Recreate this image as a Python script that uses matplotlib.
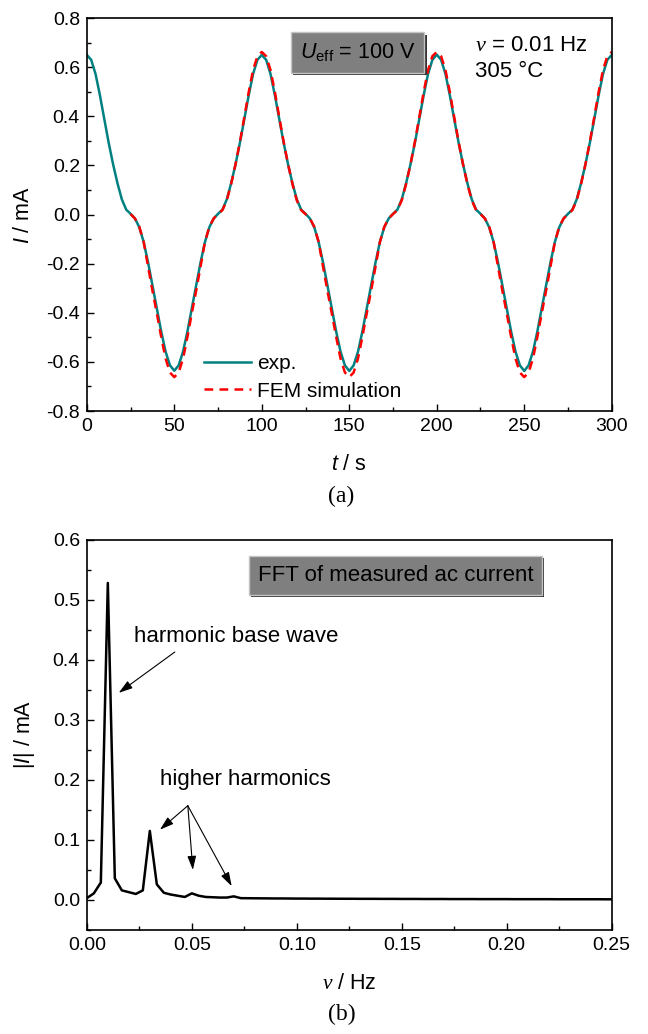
import numpy as np
import matplotlib
matplotlib.use('Agg')
import matplotlib.pyplot as plt
import matplotlib.patheffects as pe
from matplotlib.ticker import MultipleLocator, FormatStrFormatter

plt.rcParams['font.family'] = ['Liberation Sans', 'DejaVu Sans']
plt.rcParams['mathtext.fontset'] = 'custom'
plt.rcParams['mathtext.rm'] = 'Liberation Sans'
plt.rcParams['mathtext.it'] = 'Liberation Sans:italic'
plt.rcParams['mathtext.cal'] = 'Liberation Serif:italic'
plt.rcParams['axes.unicode_minus'] = False

# ---------------- data ----------------
# (a) time signal, sampled every 2.5 s
time_exp = np.arange(0, 300.01, 2.5)
current_exp = [
    0.650, 0.630, 0.572, 0.485, 0.388, 0.292, 0.205, 0.128, 0.062, 0.020, 0.003,
    -0.016, -0.052, -0.112, -0.195, -0.288, -0.382, -0.476, -0.558, -0.614, -0.636,
    -0.614, -0.558, -0.476, -0.382, -0.288, -0.195, -0.112, -0.052, -0.016, 0.003,
    0.020, 0.062, 0.128, 0.205, 0.292, 0.388, 0.485, 0.572, 0.630, 0.650,
    0.630, 0.572, 0.485, 0.388, 0.292, 0.205, 0.128, 0.062, 0.020, 0.003,
    -0.016, -0.052, -0.112, -0.195, -0.288, -0.382, -0.476, -0.558, -0.614, -0.637,
    -0.614, -0.558, -0.476, -0.382, -0.288, -0.195, -0.112, -0.052, -0.016, 0.003,
    0.020, 0.062, 0.128, 0.205, 0.292, 0.388, 0.485, 0.572, 0.630, 0.651,
    0.630, 0.572, 0.485, 0.388, 0.292, 0.205, 0.128, 0.062, 0.020, 0.003,
    -0.016, -0.052, -0.112, -0.195, -0.288, -0.382, -0.476, -0.558, -0.614, -0.637,
    -0.614, -0.558, -0.476, -0.382, -0.288, -0.195, -0.112, -0.052, -0.016, 0.003,
    0.020, 0.062, 0.128, 0.205, 0.292, 0.388, 0.485, 0.572, 0.630, 0.650,
]

time_fem = np.arange(25, 300.01, 2.5)
current_fem = [
    0.002, -0.016, -0.050, -0.112, -0.212, -0.310, -0.402, -0.498, -0.586, -0.643, -0.662,
    -0.643, -0.586, -0.498, -0.402, -0.310, -0.212, -0.112, -0.050, -0.016, 0.002,
    0.018, 0.058, 0.125, 0.205, 0.296, 0.396, 0.498, 0.588, 0.645, 0.662,
    0.645, 0.588, 0.498, 0.396, 0.296, 0.205, 0.125, 0.058, 0.018, 0.002,
    -0.016, -0.050, -0.112, -0.212, -0.310, -0.402, -0.498, -0.586, -0.643, -0.662,
    -0.643, -0.586, -0.498, -0.402, -0.310, -0.212, -0.112, -0.050, -0.016, 0.002,
    0.018, 0.058, 0.125, 0.205, 0.296, 0.396, 0.498, 0.588, 0.645, 0.662,
    0.645, 0.588, 0.498, 0.396, 0.296, 0.205, 0.125, 0.058, 0.018, 0.002,
    -0.016, -0.050, -0.112, -0.212, -0.310, -0.402, -0.498, -0.586, -0.643, -0.662,
    -0.643, -0.586, -0.498, -0.402, -0.310, -0.212, -0.112, -0.050, -0.016, 0.002,
    0.018, 0.058, 0.125, 0.205, 0.296, 0.396, 0.498, 0.588, 0.645, 0.662,
]

# (b) FFT magnitude, resolution 1/300 Hz
freq_fft = np.arange(76) / 300.0
amp_fft = [
    0.003, 0.011, 0.029, 0.528, 0.036, 0.016, 0.013, 0.010, 0.016, 0.115,
    0.026, 0.012, 0.009, 0.007, 0.005, 0.011, 0.007, 0.005, 0.0045, 0.004,
    0.004, 0.006, 0.003, 0.0029, 0.0028, 0.0027, 0.0026, 0.0025, 0.0025, 0.0024,
    0.0023, 0.0023, 0.0022, 0.0022, 0.0021, 0.0021, 0.0020, 0.0020, 0.0020, 0.0019,
    0.0019, 0.0019, 0.0018, 0.0018, 0.0018, 0.0017, 0.0017, 0.0017, 0.0016, 0.0016,
    0.0016, 0.0016, 0.0015, 0.0015, 0.0015, 0.0015, 0.0014, 0.0014, 0.0014, 0.0014,
    0.0014, 0.0013, 0.0013, 0.0013, 0.0013, 0.0013, 0.0013, 0.0012, 0.0012, 0.0012,
    0.0012, 0.0012, 0.0012, 0.0012, 0.0011, 0.0011,
]

# annotation targets in (b)
base_arrow_tail = (0.0419, 0.413)
base_arrow_head = (0.0152, 0.345)
harm_arrow_tail = (0.0481, 0.157)
harm_arrow_heads = [(0.0348, 0.117), (0.0505, 0.050), (0.069, 0.023)]

# ---------------- figure ----------------
fig = plt.figure(figsize=(6.48, 10.34), dpi=100)
ax1 = fig.add_axes([0.134, 0.6025, 0.810, 0.380])
ax2 = fig.add_axes([0.134, 0.1006, 0.810, 0.3774])

TICK_FS = 14
LABEL_FS = 15.5
ANN_FS = 16


def style_axis(ax):
    ax.tick_params(which='both', direction='in', top=False, right=False,
                   labelsize=TICK_FS, width=1.0, pad=5)
    ax.tick_params(which='major', length=5)
    ax.tick_params(which='minor', length=3)
    for s in ax.spines.values():
        s.set_linewidth(1.2)


# ---- (a)
ax1.plot(time_exp, current_exp, color='#008080', lw=1.8, label='exp.')
ax1.plot(time_fem, current_fem, color='#ff0000', lw=1.8, ls=(0, (3.5, 2.5)),
         label='FEM simulation')
ax1.set_xlim(0, 300)
ax1.set_ylim(-0.8, 0.8)
ax1.xaxis.set_major_locator(MultipleLocator(50))
ax1.xaxis.set_minor_locator(MultipleLocator(25))
ax1.yaxis.set_major_locator(MultipleLocator(0.2))
ax1.yaxis.set_minor_locator(MultipleLocator(0.1))
ax1.xaxis.set_major_formatter(FormatStrFormatter('%d'))
ax1.yaxis.set_major_formatter(FormatStrFormatter('%.1f'))
style_axis(ax1)
ax1.set_xlabel(r'$t$ / s', fontsize=LABEL_FS, labelpad=14)
ax1.set_ylabel(r'$I$ / mA', fontsize=LABEL_FS)
ax1.yaxis.set_label_coords(-0.1, 0.5)

ax1.legend(loc='upper left', bbox_to_anchor=(0.223, 0.145), frameon=False,
           fontsize=15, handlelength=2.26, handletextpad=0.3, borderpad=0,
           borderaxespad=0, labelspacing=0.42)

box_a = ax1.text(0.516, 0.912, r'$U_{\rm eff}$ = 100 V', transform=ax1.transAxes,
                 ha='center', va='center', fontsize=15.5,
                 bbox=dict(boxstyle='square,pad=0.42', fc='#7f7f7f', ec='#c4c4c4', lw=1.0))
box_a.get_bbox_patch().set_path_effects(
    [pe.SimplePatchShadow(offset=(1.6, -1.6), shadow_rgbFace='#333333', alpha=1.0), pe.Normal()])

ax1.text(0.74, 0.931, r'$\mathcal{\nu}$ = 0.01 Hz', transform=ax1.transAxes,
         ha='left', va='center', fontsize=ANN_FS)
ax1.text(0.74, 0.863, '305 °C', transform=ax1.transAxes,
         ha='left', va='center', fontsize=ANN_FS)

# ---- (b)
ax2.plot(freq_fft, amp_fft, color='black', lw=1.8)
ax2.set_xlim(0, 0.25)
ax2.set_ylim(-0.05, 0.6)
ax2.xaxis.set_major_locator(MultipleLocator(0.05))
ax2.xaxis.set_minor_locator(MultipleLocator(0.025))
ax2.yaxis.set_major_locator(MultipleLocator(0.1))
ax2.yaxis.set_minor_locator(MultipleLocator(0.05))
ax2.xaxis.set_major_formatter(FormatStrFormatter('%.2f'))
ax2.yaxis.set_major_formatter(FormatStrFormatter('%.1f'))
style_axis(ax2)
ax2.set_xlabel(r'$\mathcal{\nu}$ / Hz', fontsize=LABEL_FS, labelpad=14)
ax2.set_ylabel(r'|$I$| / mA', fontsize=LABEL_FS)
ax2.yaxis.set_label_coords(-0.095, 0.5)

box_b = ax2.text(0.588, 0.908, 'FFT of measured ac current', transform=ax2.transAxes,
                 ha='center', va='center', fontsize=ANN_FS,
                 bbox=dict(boxstyle='square,pad=0.4', fc='#7f7f7f', ec='#c4c4c4', lw=1.0))
box_b.get_bbox_patch().set_path_effects(
    [pe.SimplePatchShadow(offset=(1.6, -1.6), shadow_rgbFace='#333333', alpha=1.0), pe.Normal()])

arrow_kw = dict(arrowstyle='-|>,head_length=0.7,head_width=0.22', color='black',
                lw=0.8, shrinkA=0, shrinkB=0, mutation_scale=12)

ax2.text(0.0895, 0.751, 'harmonic base wave', transform=ax2.transAxes,
         ha='left', va='center', fontsize=ANN_FS)
ax2.annotate('', xy=base_arrow_head, xytext=base_arrow_tail, arrowprops=arrow_kw)

ax2.text(0.139, 0.385, 'higher harmonics', transform=ax2.transAxes,
         ha='left', va='center', fontsize=ANN_FS)
for head in harm_arrow_heads:
    ax2.annotate('', xy=head, xytext=harm_arrow_tail, arrowprops=arrow_kw)

# captions
fig.text(0.527, 0.520, '(a)', family='Liberation Serif', fontsize=17,
         ha='center', va='center')
fig.text(0.527, 0.019, '(b)', family='Liberation Serif', fontsize=17,
         ha='center', va='center')

fig.savefig('out.png', dpi=100)
